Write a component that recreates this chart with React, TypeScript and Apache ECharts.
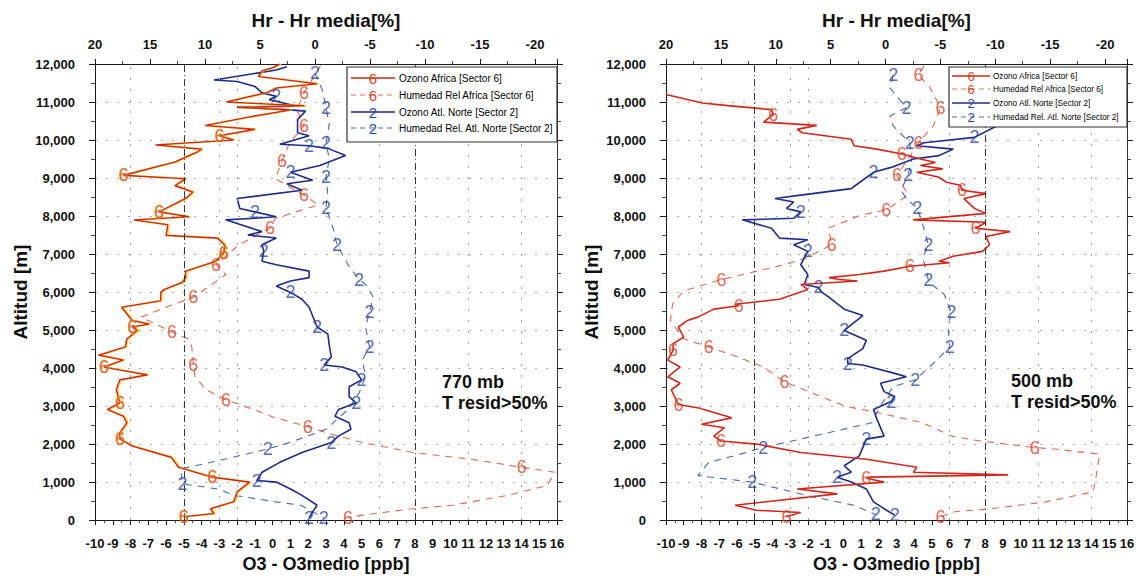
import React, { useEffect, useRef } from "react";
import * as echarts from "echarts";

// ---------- data: [value, altitude(m), marker?] ----------
// Left panel (770 mb). Ozone on bottom axis (ppb), humidity on top axis (%)
const L_OZ_AFR: number[][] = [
  [0.4, 12000], [0.0, 11900], [-0.6, 11820], [-0.8, 11670], [2.5, 11480], [0.2, 11370], [-0.3, 11250],
  [-2.6, 11000], [1.8, 10900], [-2.0, 10860], [1.0, 10790], [-1.4, 10600], [-3.8, 10380], [-1.0, 10280],
  [-3.0, 10110, 1], [-2.2, 10000], [-6.6, 9870], [-4.0, 9760], [-4.3, 9670], [-5.5, 9420], [-8.4, 9070, 1],
  [-4.9, 8980], [-5.5, 8800], [-4.5, 8630], [-4.9, 8460], [-6.4, 8110, 1], [-4.7, 7980], [-7.8, 7895],
  [-5.9, 7770], [-6.0, 7490], [-3.1, 7420], [-2.7, 7240], [-2.75, 7030, 1], [-3.2, 6810], [-4.9, 6550],
  [-4.9, 6380], [-5.1, 6250], [-6.1, 6070], [-6.3, 5990], [-6.3, 5770], [-8.5, 5600], [-8.2, 5420],
  [-7.9, 5250], [-6.95, 5160], [-7.9, 5080, 1], [-7.6, 4990], [-8.2, 4770], [-8.3, 4555], [-9.8, 4340],
  [-8.4, 4210], [-9.5, 4030, 1], [-8.6, 3950], [-7.05, 3820], [-8.6, 3690], [-8.8, 3430], [-8.6, 3080, 1],
  [-9.3, 2910], [-8.4, 2730], [-8.2, 2560], [-8.6, 2300], [-8.6, 2130, 1], [-7.9, 1950], [-5.7, 1650],
  [-5.3, 1390], [-3.4, 1130, 1], [-1.3, 1000], [-2.0, 740], [-2.2, 480], [-3.5, 300], [-3.3, 175], [-5.0, 90, 1],
];
const L_OZ_ATL: number[][] = [
  [0.8, 11930], [0.2, 11840], [-3.3, 11580], [-2.0, 11540], [-1.0, 11410], [-0.6, 11240], [0.2, 11150, 1],
  [-0.2, 11060], [1.4, 10890], [-2.0, 10870], [0.8, 10800], [1.85, 10760], [1.4, 10540], [1.4, 10190],
  [2.05, 10110], [0.4, 9890], [2.05, 9850, 1], [3.1, 9780], [4.1, 9590], [2.65, 9330], [1.0, 9150, 1],
  [2.25, 8940], [0.8, 8850], [1.65, 8680], [-2.0, 8460], [-1.85, 8200], [-1.0, 8110, 1], [0.2, 7980],
  [-1.0, 7940], [-2.65, 7900], [-0.6, 7590], [-1.4, 7500], [0.2, 7420], [-0.6, 7245], [-0.5, 7070, 1],
  [-0.6, 6810], [0.2, 6720], [2.05, 6550], [2.05, 6380], [1.0, 6290], [0.2, 6160], [1.0, 5990, 1],
  [1.65, 5810], [2.05, 5600], [2.5, 5080, 1], [3.1, 4900], [3.2, 4555], [3.3, 4295], [2.9, 4080, 1],
  [3.9, 4030], [4.7, 3900], [5.0, 3690, 1], [4.3, 3510], [4.3, 3250], [4.7, 3080, 1], [3.7, 2910],
  [3.5, 2730], [4.3, 2560], [4.4, 2390], [3.7, 2210], [3.3, 2040, 1], [1.65, 1780], [0.4, 1520],
  [-0.6, 1260], [-0.9, 1040, 1], [0.2, 1000], [1.0, 820], [1.65, 650], [2.5, 390], [2.25, 220], [2.05, 60, 1],
];
const L_HUM_AFR: number[][] = [
  [-0.5, 11950], [1.0, 11240, 1], [1.65, 10800], [1.0, 10370, 1], [2.3, 9930], [3.0, 9460, 1], [3.6, 8980],
  [1.0, 8550, 1], [-0.3, 8290], [3.6, 7940], [4.1, 7680, 1], [6.9, 7245], [9.0, 6720, 1], [8.1, 6460],
  [11.06, 5860, 1], [13.2, 5640], [15.8, 5340], [13.0, 4950, 1], [11.55, 4770], [11.2, 4555], [11.06, 4080, 1],
  [10.9, 3770], [9.9, 3430], [8.1, 3170, 1], [5.6, 2910], [3.6, 2690], [0.66, 2460, 1], [-1.0, 2300],
  [-4.3, 2040], [-8.9, 1780], [-14.2, 1600], [-18.8, 1390, 1], [-21.8, 1260], [-21.1, 910], [-17.5, 650],
  [-12.5, 390], [-8.9, 300], [-4.3, 130], [-3.0, 60, 1],
];
const L_HUM_ATL: number[][] = [
  [0.0, 11760, 1], [-0.66, 11320], [-1.0, 10850, 1], [-1.3, 10410], [-1.0, 9930, 1], [-1.3, 9500],
  [-1.0, 9020, 1], [-1.15, 8630], [-1.0, 8200, 1], [-1.65, 7680], [-2.0, 7245, 1], [-3.0, 6720],
  [-4.0, 6330, 1], [-4.6, 6200], [-5.3, 5860], [-4.95, 5470, 1], [-4.6, 5080], [-4.95, 4555, 1],
  [-4.3, 4210], [-4.6, 3770], [-4.0, 3340], [-3.0, 2910], [-1.0, 2390], [2.3, 2040], [4.3, 1870, 1],
  [8.25, 1600], [12.2, 1345], [12.05, 955, 1], [8.9, 820], [7.26, 650], [3.6, 480], [1.3, 390], [-0.8, 60, 1],
];

// Right panel (500 mb)
const R_OZ_AFR: number[][] = [
  [-10, 11200], [-7.95, 10975], [-6.5, 10906], [-4.05, 10800], [-3.95, 10670, 1], [-4.5, 10470], [-1.5, 10385],
  [-2.6, 10280], [-2.3, 10190], [0.45, 10020], [0.6, 9850], [1.9, 9760], [3.3, 9630, 1], [4.35, 9500],
  [5.2, 9410], [4.35, 9330], [5.6, 9240], [4.15, 9150], [5.4, 9020], [5.8, 8890], [6.6, 8810], [6.7, 8680, 1],
  [8.05, 8590], [6.8, 8460], [7.4, 8200], [8.05, 8070], [3.95, 7900], [8.05, 7835], [7.45, 7680, 1],
  [9.4, 7590], [8.05, 7460], [8.25, 7245], [7.85, 7070], [6.2, 6940], [5.4, 6810], [6.0, 6770],
  [3.75, 6680, 1], [2.3, 6550], [0.9, 6460], [-0.8, 6380], [-0.2, 6330], [0.8, 6290], [-2.4, 6200],
  [-2.0, 6070], [-3.6, 5810], [-6.1, 5680], [-5.9, 5640, 1], [-7.3, 5550], [-8.2, 5340], [-8.8, 5250],
  [-9.3, 5080], [-9.0, 4815], [-9.6, 4640], [-9.6, 4470, 1], [-9.9, 4210], [-9.2, 4030], [-9.9, 3770],
  [-9.2, 3600], [-9.7, 3430], [-9.3, 3040, 1], [-8.15, 2950], [-6.3, 2690], [-8.0, 2520], [-6.7, 2430],
  [-7.3, 2210], [-6.9, 2080, 1], [-4.9, 2000], [-2.4, 1780], [1.3, 1600], [4.15, 1390], [3.95, 1260],
  [9.3, 1190], [1.5, 1130], [1.3, 1100, 1], [2.3, 1000], [-2.6, 820], [-0.35, 690], [-6.1, 390],
  [-4.9, 260], [-2.4, 200], [-3.2, 90, 1],
];
const R_OZ_ATL: number[][] = [
  [8.7, 10380], [7.4, 10070, 1], [4.55, 9930], [4.15, 9850], [6.2, 9760], [5.4, 9590], [3.95, 9500],
  [2.7, 9280], [1.7, 9150, 1], [0.7, 8810], [0.45, 8720], [-2.4, 8550], [-3.85, 8460], [-2.8, 8370],
  [-3.2, 8200], [-2.4, 8110, 1], [-2.8, 7940], [-5.7, 7900], [-4.05, 7680], [-3.6, 7420], [-2.0, 7375],
  [-2.8, 7245], [-2.0, 7070, 1], [-2.2, 6900], [-2.4, 6720], [-2.0, 6460], [-2.2, 6200], [-1.4, 6120, 1],
  [-1.2, 5990], [-0.8, 5860], [0.05, 5550], [1.1, 5380], [0.05, 4990, 1], [1.3, 4730], [1.1, 4510],
  [0.25, 4250], [0.25, 4120, 1], [1.1, 4080], [2.9, 3860], [3.55, 3770], [2.1, 3600], [2.3, 3380],
  [2.9, 3250], [2.7, 3120, 1], [1.7, 2910], [1.9, 2650], [2.3, 2210], [1.3, 2130, 1], [0.9, 1690],
  [0.05, 1430], [0.45, 1260], [-0.35, 1130, 1], [0.45, 1000], [1.3, 820], [1.7, 480], [2.3, 300], [2.9, 130, 1],
];
const R_HUM_AFR: number[][] = [
  [-3.5, 11950], [-3.0, 11710, 1], [-4.0, 11410], [-5.0, 10850, 1], [-4.35, 10370], [-3.0, 9930, 1],
  [-2.05, 9500], [-1.05, 9070, 1], [-2.05, 8550], [-0.07, 8160, 1], [2.24, 8025], [5.2, 7680],
  [4.9, 7245, 1], [7.2, 6900], [9.2, 6720], [14.95, 6330, 1], [18.4, 6030], [19.4, 5680], [19.6, 5250],
  [18.4, 4770], [16.1, 4555, 1], [13.5, 4295], [11.15, 4030], [9.2, 3640, 1], [5.2, 3170], [3.55, 2990],
  [0.6, 2820], [-3.4, 2560], [-6.0, 2210], [-8.65, 2080], [-13.6, 1910, 1], [-15.6, 1865], [-19.5, 1735],
  [-19.2, 1170], [-18.9, 740], [-14.6, 480], [-9.6, 300], [-6.3, 220], [-5.0, 90, 1],
];
const R_HUM_ATL: number[][] = [
  [-0.7, 11710, 1], [-0.4, 11370], [-1.9, 10850, 1], [-0.4, 10630], [-0.7, 10370], [-2.2, 9930, 1],
  [-2.4, 9500], [-2.05, 9070, 1], [-1.4, 8680], [-1.9, 8460], [-2.9, 8200, 1], [-3.4, 7770],
  [-3.9, 7245, 1], [-3.4, 6900], [-3.9, 6330, 1], [-4.0, 6250], [-5.35, 5940], [-6.0, 5470, 1],
  [-5.7, 5080], [-5.85, 4555, 1], [-4.35, 4120], [-2.7, 3690, 1], [-0.7, 3510], [0.3, 3080], [1.25, 2560],
  [5.2, 2300], [11.15, 1910, 1], [13.8, 1690], [16.1, 1520], [17.1, 1170], [12.15, 1000, 1], [7.2, 650],
  [2.9, 390], [0.9, 150, 1],
];

const HR_TICKS = [20, 15, 10, 5, 0, -5, -10, -15, -20];
const GRID_MAIN = [-5, 8];
const GRID_MINOR = [-8, -3, -2, 6, 11, 14];
const PANEL_TEXT = [
  ["770 mb", "T resid>50%"],
  ["500 mb", "T resid>50%"],
];
const LEGEND_LABELS = [
  "Ozono Africa [Sector 6]",
  "Humedad Rel Africa [Sector 6]",
  "Ozono Atl. Norte [Sector 2]",
  "Humedad Rel. Atl. Norte [Sector 2]",
];

// ---------- styles ----------
const FONT = "'Liberation Sans', Arial, sans-serif";
const RED = "#d3261a";
const RED_DASH = "#e2684e";
const BLUE = "#1c2b8c";
const BLUE_DASH = "#4566b5";
const RED_GLYPH = "#dc3f26";
const BLUE_GLYPH = "#2c43a6";
const AXIS = "#1a1a1a";

const LEGEND_STYLE = [
  { color: RED, glyphColor: RED_GLYPH, dashed: false, glyph: "6" },
  { color: RED_DASH, glyphColor: RED_GLYPH, dashed: true, glyph: "6" },
  { color: BLUE, glyphColor: BLUE_GLYPH, dashed: false, glyph: "2" },
  { color: BLUE_DASH, glyphColor: BLUE_GLYPH, dashed: true, glyph: "2" },
];

function profile(
  pts: number[][], xi: number, yi: number, color: string, glyphColor: string,
  dashed: boolean, glyph: string, halo: boolean, markLine?: any
) {
  const line: any = {
    type: "line",
    xAxisIndex: xi,
    yAxisIndex: yi,
    data: pts.map((p) => [p[0], p[1]]),
    showSymbol: false,
    symbol: "none",
    silent: true,
    z: dashed ? 2 : 3,
    lineStyle: {
      color,
      width: dashed ? 1.1 : 1.6,
      type: dashed ? [7, 6] : "solid",
      ...(halo ? { shadowColor: "rgba(250,215,30,0.85)", shadowBlur: 0, shadowOffsetX: 1.4 } : {}),
    },
  };
  if (markLine) line.markLine = markLine;
  const marks: any = {
    type: "scatter",
    xAxisIndex: xi,
    yAxisIndex: yi,
    data: pts.filter((p) => p[2]).map((p) => [p[0], p[1]]),
    symbol: "circle",
    symbolSize: 2,
    silent: true,
    z: 5,
    itemStyle: { color: "rgba(0,0,0,0)" },
    label: {
      show: true,
      position: "inside",
      formatter: glyph,
      fontSize: 18,
      fontFamily: FONT,
      color: glyphColor,
      ...(halo ? { textBorderColor: "rgba(245,210,60,0.8)", textBorderWidth: 1 } : {}),
    },
  };
  return [line, marks];
}

function gridMarkLine() {
  return {
    silent: true,
    symbol: ["none", "none"],
    label: { show: false },
    data: [
      ...GRID_MAIN.map((v) => ({ xAxis: v, lineStyle: { type: [7, 3, 1, 3], color: "#333", width: 1 } })),
      ...GRID_MINOR.map((v) => ({ xAxis: v, lineStyle: { type: [2, 9], color: "#999", width: 1 } })),
    ],
  };
}

function axesFor(p: number) {
  const xs = [
    {
      gridIndex: p, type: "value", position: "bottom", min: -10, max: 16, interval: 1,
      name: "O3 - O3medio [ppb]", nameLocation: "middle", nameGap: 32,
      nameTextStyle: { fontSize: 18, fontWeight: "bold", color: "#111", fontFamily: FONT },
      axisLine: { show: true, onZero: false, lineStyle: { color: AXIS, width: 1 } },
      axisTick: { show: true, length: 5, lineStyle: { color: AXIS } },
      minorTick: { show: true, splitNumber: 2, length: 3, lineStyle: { color: "#444" } },
      axisLabel: { fontSize: 13, fontWeight: "bold", color: "#111", margin: 17, fontFamily: FONT },
      splitLine: { show: false },
    },
    {
      gridIndex: p, type: "value", position: "top", inverse: true, min: -22, max: 20, splitNumber: 8,
      name: "Hr - Hr media[%]", nameLocation: "middle", nameGap: 34,
      nameTextStyle: { fontSize: 19, fontWeight: "bold", color: "#111", fontFamily: FONT },
      axisLine: { show: true, onZero: false, lineStyle: { color: AXIS, width: 1 } },
      axisTick: { show: true, length: 5, lineStyle: { color: AXIS } },
      minorTick: { show: true, splitNumber: 2, length: 3, lineStyle: { color: "#444" } },
      axisLabel: {
        fontSize: 13, fontWeight: "bold", color: "#111", margin: 13, fontFamily: FONT,
        formatter: (v: number) => (HR_TICKS.includes(v) ? String(v) : ""),
      },
      splitLine: { show: false },
    },
  ];
  const ys = [
    {
      gridIndex: p, type: "value", position: "left", min: 0, max: 12000, interval: 1000,
      name: "Altitud [m]", nameLocation: "middle", nameGap: 65, nameRotate: 90,
      nameTextStyle: { fontSize: 19, fontWeight: "bold", color: "#111", fontFamily: FONT },
      axisLine: { show: true, onZero: false, lineStyle: { color: AXIS, width: 1 } },
      axisTick: { show: true, length: 6, lineStyle: { color: AXIS } },
      minorTick: { show: true, splitNumber: 2, length: 4, lineStyle: { color: "#444" } },
      axisLabel: { fontSize: 13, fontWeight: "bold", color: "#111", margin: 20, fontFamily: FONT },
      splitLine: { show: true, lineStyle: { type: [2, 9], color: "#aaa", width: 1 } },
    },
    {
      gridIndex: p, type: "value", position: "right", min: 0, max: 12000, interval: 1000,
      axisLine: { show: true, onZero: false, lineStyle: { color: "#333", width: 1 } },
      axisTick: { show: true, length: 6, lineStyle: { color: AXIS } },
      minorTick: { show: true, splitNumber: 2, length: 4, lineStyle: { color: "#444" } },
      axisLabel: { show: false },
      splitLine: { show: false },
    },
  ];
  return { xs, ys };
}

function legendGroup(box: number[], rows: number[], lx: number[], tx: number, fs: number, gs: number) {
  const els: any[] = [
    {
      type: "rect", z: 100,
      shape: { x: box[0], y: box[1], width: box[2], height: box[3] },
      style: { fill: "#fff", stroke: "#333", lineWidth: 1.2 },
    },
  ];
  LEGEND_LABELS.forEach((label, i) => {
    const s = LEGEND_STYLE[i];
    const y = rows[i];
    const lineStyle: any = { stroke: s.color, lineWidth: s.dashed ? 1 : 1.5 };
    if (s.dashed) lineStyle.lineDash = [5, 4];
    els.push({ type: "line", z: 101, shape: { x1: lx[0], y1: y, x2: lx[1], y2: y }, style: lineStyle });
    els.push({
      type: "text", z: 102, x: (lx[0] + lx[1]) / 2, y,
      style: { text: s.glyph, fill: s.glyphColor, fontSize: gs, fontFamily: FONT, textAlign: "center", textVerticalAlign: "middle" },
    });
    els.push({
      type: "text", z: 102, x: tx, y,
      style: { text: label, fill: "#000", fontSize: fs, fontFamily: FONT, textAlign: "left", textVerticalAlign: "middle" },
    });
  });
  return els;
}

function noteTexts(x: number, ys: number[], lines: string[]) {
  return lines.map((t, i) => ({
    type: "text", z: 100, x, y: ys[i],
    style: { text: t, fill: "#111", fontSize: 18, fontWeight: "bold", fontFamily: FONT, textAlign: "left", textVerticalAlign: "middle" },
  }));
}

export default function App() {
  const ref = useRef<HTMLDivElement>(null);
  useEffect(() => {
    if (!ref.current) return;
    const chart = echarts.init(ref.current, undefined, { renderer: "svg" });
    const a0 = axesFor(0);
    const a1 = axesFor(1);
    const option: any = {
      animation: false,
      backgroundColor: "#fff",
      textStyle: { fontFamily: FONT },
      grid: [
        { left: 95, top: 64, width: 462, height: 461 },
        { left: 666, top: 64, width: 461, height: 461 },
      ],
      xAxis: [...a0.xs, ...a1.xs],
      yAxis: [...a0.ys, ...a1.ys],
      series: [
        ...profile(L_HUM_AFR, 1, 0, RED_DASH, RED_GLYPH, true, "6", false),
        ...profile(L_HUM_ATL, 1, 0, BLUE_DASH, BLUE_GLYPH, true, "2", false),
        ...profile(L_OZ_ATL, 0, 0, BLUE, BLUE_GLYPH, false, "2", false),
        ...profile(L_OZ_AFR, 0, 0, RED, RED_GLYPH, false, "6", true, gridMarkLine()),
        ...profile(R_HUM_AFR, 3, 2, RED_DASH, RED_GLYPH, true, "6", false),
        ...profile(R_HUM_ATL, 3, 2, BLUE_DASH, BLUE_GLYPH, true, "2", false),
        ...profile(R_OZ_ATL, 2, 2, BLUE, BLUE_GLYPH, false, "2", false),
        ...profile(R_OZ_AFR, 2, 2, RED, RED_GLYPH, false, "6", false, gridMarkLine()),
      ],
      graphic: [
        ...legendGroup([347, 67, 210, 75], [78, 95, 112, 128], [351, 395], 399, 10, 15),
        ...legendGroup([949, 67, 178, 60], [76, 89, 103, 117], [952, 990], 993, 8.2, 13),
        ...noteTexts(442, [382, 403], PANEL_TEXT[0]),
        ...noteTexts(1011, [381, 402], PANEL_TEXT[1]),
      ],
    };
    chart.setOption(option);
    return () => chart.dispose();
  }, []);
  return (
    <div
      ref={ref}
      style={{ position: "absolute", left: 0, top: 0, width: 1145, height: 578, background: "#fff" }}
    />
  );
}
